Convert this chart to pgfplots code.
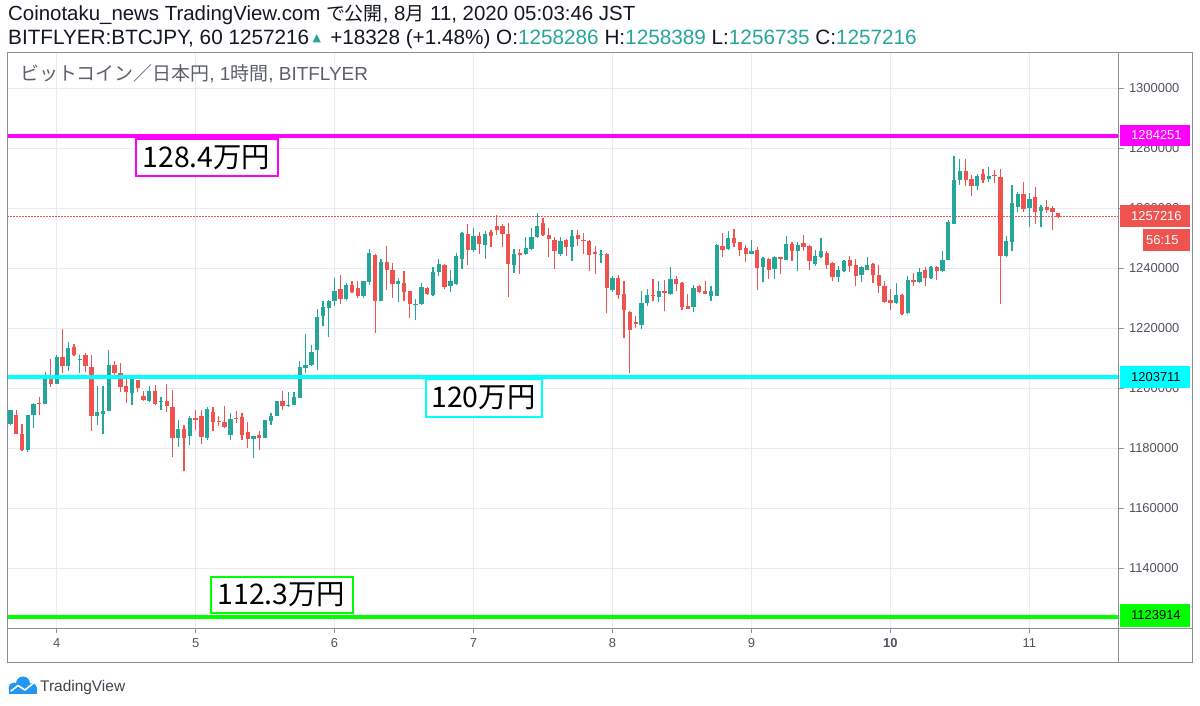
\documentclass[border=0pt]{standalone}
\usepackage{fontspec}
\setmainfont{Liberation Sans}
\newfontfamily\hdr{Liberation Sans}
\newfontfamily\jp{Noto Sans CJK JP}
\newfontfamily\sym{DejaVu Sans}
\usepackage{pgfplots}
\pgfplotsset{compat=1.18}
\usepackage{pgfplotstable}

\definecolor{up}{HTML}{26A69A}
\definecolor{dn}{HTML}{EF5350}
\definecolor{gridc}{HTML}{E6EBF1}
\definecolor{framec}{HTML}{8C8F98}
\definecolor{tickc}{HTML}{50535E}
\definecolor{mag}{HTML}{FF00FF}
\definecolor{cya}{HTML}{00FFFF}
\definecolor{lim}{HTML}{00FF00}
\definecolor{tvblue}{HTML}{2196F3}
\definecolor{hdrc}{HTML}{131722}
\definecolor{legc}{HTML}{5D606B}

\pgfplotstableread{
h o hi lo c
-8 1188170 1192830 1187830 1192610
-7 1191170 1192830 1184720 1184720
-6 1184830 1188170 1178940 1179500
-5 1179500 1191170 1178610 1191170
-4 1190940 1195060 1186720 1194830
-3 1195060 1196940 1190940 1194610
-2 1194830 1205390 1194830 1203390
-1 1203060 1209830 1200280 1201500
0 1201500 1211170 1201500 1210280
1 1210280 1219830 1205060 1207280
2 1207280 1215390 1205610 1213390
3 1213720 1214830 1210610 1210940
4 1209610 1211170 1205060 1209830
5 1211170 1211720 1205390 1207280
6 1206940 1211170 1185830 1190610
7 1190610 1200610 1187830 1192060
8 1191500 1200610 1184720 1192500
9 1192280 1212610 1192280 1207830
10 1207830 1208940 1204500 1205060
11 1205060 1208390 1198720 1200280
12 1200610 1203720 1195060 1198610
13 1198390 1203390 1194280 1203060
14 1202610 1202830 1198610 1200060
15 1197280 1198940 1195830 1196170
16 1195830 1200610 1195280 1198940
17 1198940 1201170 1194280 1194720
18 1195280 1196940 1192830 1195830
19 1195830 1201390 1191940 1193940
20 1193720 1199500 1177060 1183390
21 1183390 1189500 1180390 1186500
22 1186500 1187830 1172280 1183390
23 1183940 1190610 1180940 1190060
24 1190060 1192830 1186170 1189500
25 1190610 1192610 1181500 1183610
26 1183390 1193720 1182610 1193060
27 1192060 1193720 1185830 1188720
28 1189170 1190830 1187500 1188610
29 1188610 1194170 1186720 1187060
30 1184500 1191720 1182610 1189720
31 1190060 1192280 1188390 1189720
32 1190390 1191720 1182830 1184280
33 1185390 1188610 1180060 1183060
34 1183170 1184170 1176720 1183940
35 1184500 1185610 1179500 1183390
36 1183390 1189280 1183390 1189280
37 1188940 1191720 1187830 1190610
38 1190610 1195830 1190610 1195610
39 1195610 1199170 1192830 1193940
40 1193940 1198720 1193610 1194500
41 1194280 1198720 1194280 1196940
42 1196720 1208940 1196720 1207060
43 1206720 1218170 1205060 1207830
44 1207830 1214500 1207280 1212060
45 1212830 1226500 1205940 1223720
46 1223940 1229170 1220610 1227060
47 1226720 1229500 1217060 1229170
48 1228940 1236720 1227280 1232280
49 1233060 1237830 1228170 1229830
50 1229720 1235060 1229500 1234500
51 1234280 1235610 1231720 1232060
52 1233390 1235610 1230060 1230830
53 1230830 1235830 1230060 1235610
54 1235280 1246390 1234500 1245060
55 1244500 1244830 1218390 1228940
56 1228940 1243060 1228940 1242060
57 1241940 1247280 1232830 1239280
58 1239280 1241720 1230060 1234830
59 1234830 1236720 1228610 1235610
60 1235060 1238940 1228940 1232060
61 1232280 1232280 1223390 1228060
62 1227720 1229720 1222830 1228170
63 1228170 1235060 1227830 1233720
64 1233390 1233720 1231170 1231390
65 1231170 1240280 1230830 1238610
66 1238610 1243060 1237500 1241390
67 1241170 1241390 1233060 1233720
68 1234170 1239500 1231940 1235610
69 1234830 1245060 1234500 1243940
70 1243170 1252060 1239720 1251720
71 1251500 1254830 1241170 1246170
72 1245940 1253390 1245280 1250830
73 1250830 1252060 1244830 1248170
74 1247610 1252500 1243170 1251500
75 1252060 1252610 1246940 1250610
76 1253940 1257610 1251170 1252830
77 1253940 1254830 1246940 1251390
78 1251500 1255060 1230390 1241390
79 1241170 1246390 1238390 1244830
80 1245060 1246390 1238170 1244280
81 1244720 1250390 1244500 1246720
82 1246390 1253390 1246170 1250390
83 1250390 1258390 1250060 1253940
84 1255060 1256720 1250830 1250940
85 1251170 1253390 1243720 1249720
86 1249500 1250390 1239720 1245610
87 1244830 1250280 1243940 1249170
88 1249500 1249830 1244170 1247060
89 1246940 1252830 1242500 1250610
90 1251170 1252830 1247280 1249720
91 1249500 1251720 1244830 1248940
92 1249170 1249500 1239170 1244500
93 1245280 1247500 1238170 1244720
94 1244280 1246170 1241720 1244830
95 1244830 1245060 1225060 1233390
96 1232830 1237500 1231940 1236720
97 1236720 1237830 1229830 1231170
98 1231390 1235610 1216720 1226170
99 1225390 1225610 1205060 1219280
100 1221940 1224170 1220060 1221500
101 1221170 1232500 1219720 1228390
102 1228390 1233060 1227280 1231170
103 1231170 1236390 1228940 1230610
104 1230390 1235830 1228610 1232280
105 1232280 1236170 1225610 1231720
106 1231390 1240280 1231170 1236390
107 1236390 1237500 1232280 1234830
108 1235060 1235280 1226170 1227060
109 1227500 1231500 1226390 1226390
110 1226940 1234500 1225280 1233390
111 1233940 1234500 1231720 1232060
112 1232500 1235610 1231390 1231390
113 1230830 1233940 1229170 1232280
114 1230830 1248170 1230830 1247610
115 1247500 1251720 1243720 1246170
116 1246390 1252280 1245940 1250060
117 1250060 1253170 1246940 1248390
118 1248610 1248610 1243940 1246170
119 1246720 1247830 1241940 1244830
120 1244830 1249500 1244720 1245610
121 1245940 1247060 1232830 1240060
122 1240390 1243610 1235280 1243390
123 1243060 1243390 1236390 1239500
124 1239720 1243940 1236390 1243610
125 1243610 1243720 1238060 1243060
126 1242830 1250610 1242830 1248060
127 1248060 1248610 1242280 1245610
128 1245610 1248610 1239170 1247830
129 1248390 1250940 1245610 1246940
130 1247280 1247830 1239500 1242500
131 1241500 1246170 1240830 1243940
132 1243720 1250060 1243390 1245610
133 1245060 1245610 1239720 1241170
134 1241720 1241940 1235610 1236940
135 1236940 1240610 1235280 1239280
136 1238940 1242830 1238610 1242280
137 1242610 1243940 1238610 1240610
138 1241170 1243060 1233940 1237500
139 1237610 1240610 1235280 1240390
140 1239500 1243720 1239280 1241170
141 1241390 1241720 1235060 1237610
142 1237830 1241170 1231720 1233940
143 1234170 1235610 1228390 1228720
144 1229500 1233060 1226170 1228390
145 1228390 1235060 1228170 1231170
146 1231170 1231500 1224280 1224720
147 1225060 1237280 1224830 1235940
148 1235940 1238390 1234170 1235280
149 1235280 1240060 1235060 1238720
150 1239500 1240390 1233940 1236720
151 1236720 1240830 1236390 1240390
152 1240390 1240830 1236170 1238940
153 1238940 1245610 1238610 1242830
154 1242830 1255940 1242830 1255280
155 1254830 1277500 1254830 1269500
156 1269280 1276500 1267830 1272280
157 1272500 1276500 1267280 1269280
158 1269720 1271170 1264170 1267280
159 1267280 1271500 1265940 1270830
160 1271500 1273170 1268390 1269280
161 1269830 1273610 1268720 1270830
162 1270940 1272610 1268390 1270610
163 1270390 1273170 1228060 1243940
164 1243940 1250830 1243610 1248940
165 1248610 1267830 1245610 1261720
166 1260390 1265280 1258610 1264830
167 1264830 1268720 1258720 1259830
168 1260060 1265060 1253720 1263170
169 1263610 1266940 1254830 1258610
170 1258940 1261170 1253720 1260390
171 1260390 1262830 1258390 1259280
172 1260060 1260830 1252830 1258610
173 1258286 1258389 1256735 1257216
}\candles

\begin{document}
\begin{tikzpicture}[x=1bp,y=1bp]
\fill[white] (0,0) rectangle (1200,-706);

% header
\node[anchor=base west, inner sep=0, text=hdrc, font=\hdr\fontsize{20.5}{22}\selectfont] at (8,-20.5)
  {Coinotaku\_news TradingView.com {\jp\fontsize{19}{20}\selectfont で公開}, 8{\jp\fontsize{19}{20}\selectfont 月} 11, 2020 05:03:46 JST};
\node[anchor=base west, inner sep=0, text=hdrc, font=\hdr\fontsize{20.8}{22}\selectfont] at (8,-44.5)
  {BITFLYER:BTCJPY, 60 1257216\,{\color{up}\sym\fontsize{11}{12}\selectfont\raisebox{3bp}{▲}}\, +18328 (+1.48\%) O:{\color{up}1258286} H:{\color{up}1258389} L:{\color{up}1256735} C:{\color{up}1257216}};

\begin{axis}[
  at={(7.3bp,-628bp)}, anchor=south west,
  scale only axis, width=1111.2bp, height=575.7bp,
  xmin=-8.53, xmax=183.4, ymin=1120100, ymax=1312000,
  clip=false, scaled y ticks=false, scaled x ticks=false,
  axis line style={framec, line width=1bp},
  grid=major, grid style={gridc, line width=1bp},
  xtick={0,24,48,72,96,120,144,168},
  xticklabels={4,5,6,7,8,9,\textbf{10},11},
  ytick={1140000,1160000,1180000,1200000,1220000,1240000,1260000,1280000,1300000},
  yticklabels={1140000,1160000,1180000,1200000,1220000,1240000,1260000,1280000,1300000},
  xtick pos=bottom, ytick pos=right, yticklabel pos=right,
  tick align=outside, major tick length=5bp,
  tick style={framec, line width=0.8bp},
  every tick label/.append style={font=\fontsize{13}{14}\selectfont, text=tickc},
  y tick label style={xshift=2bp},
  x tick label style={yshift=-2bp},
]
% current price dotted line
\addplot[dn, line width=0.9bp, dash pattern=on 1.5bp off 1.5bp, no marks] coordinates {(-8.53,1257216) (183.4,1257216)};
% wicks
\addplot[up, line width=1.2bp, no marks, quiver={u=0, v={\thisrow{hi}-\thisrow{lo}}},
  restrict expr to domain={\thisrow{c}-\thisrow{o}}{0:1e9}] table[x=h, y=lo] {\candles};
\addplot[dn, line width=1.2bp, no marks, quiver={u=0, v={\thisrow{hi}-\thisrow{lo}}},
  restrict expr to domain={\thisrow{c}-\thisrow{o}}{-1e9:-0.001}] table[x=h, y=lo] {\candles};
% bodies
\addplot[up, line width=4.3bp, no marks, quiver={u=0, v={\thisrow{c}-\thisrow{o}}},
  restrict expr to domain={\thisrow{c}-\thisrow{o}}{0:1e9}] table[x=h, y=o] {\candles};
\addplot[dn, line width=4.3bp, no marks, quiver={u=0, v={\thisrow{c}-\thisrow{o}}},
  restrict expr to domain={\thisrow{c}-\thisrow{o}}{-1e9:-0.001}] table[x=h, y=o] {\candles};
% horizontal levels
\addplot[mag, line width=4bp, no marks] coordinates {(-8.53,1284251) (183.4,1284251)};
\addplot[cya, line width=4bp, no marks] coordinates {(-8.53,1203711) (183.4,1203711)};
\addplot[lim, line width=4bp, no marks] coordinates {(-8.53,1123914) (183.4,1123914)};
\end{axis}

% legend text
\node[anchor=base west, inner sep=0, text=legc, font=\hdr\fontsize{19}{20}\selectfont] at (20,-81)
  {{\jp\fontsize{19}{20}\selectfont ビットコイン／日本円}, 1{\jp\fontsize{19}{20}\selectfont 時間}, BITFLYER};

% frame
\draw[framec, line width=1bp] (7.3,-52.3) rectangle (1192,-662);
\draw[framec, line width=1bp] (1118.5,-52.3) -- (1118.5,-662);
\draw[framec, line width=1bp] (7.3,-628) -- (1192,-628);

% price labels on the right
\fill[mag] (1119.5,-125) rectangle (1190,-146);
\node[anchor=west, inner sep=0, text=white, font=\fontsize{13}{14}\selectfont] at (1131,-135.5) {1284251};
\fill[dn] (1119.5,-205.5) rectangle (1190,-227);
\node[anchor=west, inner sep=0, text=white, font=\fontsize{13}{14}\selectfont] at (1131,-216.3) {1257216};
\fill[dn] (1142.5,-229) rectangle (1190,-251);
\node[anchor=west, inner sep=0, text=white, font=\fontsize{13}{14}\selectfont] at (1146,-240) {56:15};
\fill[cya] (1119.5,-366) rectangle (1190,-388);
\node[anchor=west, inner sep=0, text=black, font=\fontsize{13}{14}\selectfont] at (1131,-377) {1203711};
\fill[lim] (1119.5,-604) rectangle (1190,-627);
\node[anchor=west, inner sep=0, text=black, font=\fontsize{13}{14}\selectfont] at (1131,-615.5) {1123914};

% annotation boxes
\node[draw=mag, line width=2bp, fill=white, inner sep=0, minimum width=142bp, minimum height=37bp,
  font=\jp\fontsize{28.5}{30}\selectfont] at (206.5,-157.5) {128.4万円};
\node[draw=cya, line width=2bp, fill=white, inner sep=0, minimum width=116bp, minimum height=38bp,
  font=\jp\fontsize{28.5}{30}\selectfont] at (483.5,-397.5) {120万円};
\node[draw=lim, line width=2bp, fill=white, inner sep=0, minimum width=142bp, minimum height=36bp,
  font=\jp\fontsize{28.5}{30}\selectfont] at (281.5,-594.5) {112.3万円};

% TradingView logo
\fill[tvblue] (14,-688) circle (5.5) (23,-683.5) circle (7) (31.5,-688.5) circle (5.5);
\fill[tvblue] (8.5,-694) rectangle (37,-687);
\draw[white, line width=1.6bp, line join=round, line cap=round] (11,-691) -- (18,-685.5) -- (25,-690) -- (33,-683.5);
\node[anchor=base west, inner sep=0, text=hdrc!80, font=\fontsize{15.5}{17}\selectfont] at (40,-691) {TradingView};

\pgfresetboundingbox
\useasboundingbox (0,0) rectangle (1200,-706);
\end{tikzpicture}
\end{document}
